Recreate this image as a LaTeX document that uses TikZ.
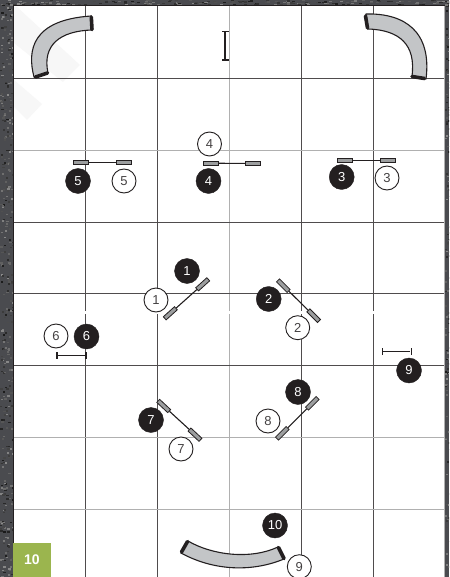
\documentclass[tikz,border=0pt]{standalone}
\usepackage{fontspec}
\setmainfont{Liberation Sans}
\definecolor{bgdark}{HTML}{4A4B4F}
\definecolor{ink}{HTML}{231F20}
\definecolor{tube}{HTML}{C3C5C7}
\definecolor{agility}{HTML}{9BB54E}
\definecolor{gridgray}{HTML}{B0B0B0}
\tikzset{
  gridline/.style={draw=ink!80,line width=0.6pt},
  gridlight/.style={draw=gridgray,line width=0.9pt},
  dark/.style={circle,fill=ink,draw=ink,minimum size=25pt,inner sep=0pt,text=white,font=\fontsize{13}{13}\selectfont},
  light/.style={circle,fill=white,draw=ink,line width=0.9pt,minimum size=24pt,inner sep=0pt,text=ink!85,font=\fontsize{13}{13}\selectfont},
  wing/.style={rectangle,draw=ink,line width=0.8pt,fill=tube!80!black,minimum width=15pt,minimum height=4.2pt,inner sep=0pt},
  bar/.style={draw=ink,line width=1.1pt},
  tick/.style={rectangle,fill=ink,minimum width=1.3pt,minimum height=7pt,inner sep=0pt},
  tunnel/.style={draw=ink,line width=1.1pt,fill=tube,line join=round},
  tunnelend/.style={draw=ink,line width=3.6pt,line cap=round},
  badge/.style={rectangle,fill=agility,text=white,minimum width=38pt,minimum height=34pt,inner sep=0pt,font=\bfseries\fontsize{14}{14}\selectfont},
  seam/.style={draw=white,line width=1pt},
  water/.style={fill=black!3}
}
\begin{document}
\begin{tikzpicture}[x=1pt,y=-1pt]
\useasboundingbox (0,0) rectangle (449,577);
% speckled background
\fill[bgdark] (0,0) rectangle (449,577);
\pgfmathsetseed{4242}
\begin{scope}
\clip (0,0) rectangle (449,577);
\foreach \i in {1,...,420}{
  \pgfmathsetmacro{\yy}{rnd*577}
  \pgfmathsetmacro{\xx}{rnd*14}
  \pgfmathsetmacro{\gg}{45+rnd*45}
  \fill[black!\gg] (\xx,\yy) rectangle ++(2.2,1.6);
}
\foreach \i in {1,...,120}{
  \pgfmathsetmacro{\yy}{rnd*577}
  \pgfmathsetmacro{\xx}{445+rnd*4}
  \pgfmathsetmacro{\gg}{45+rnd*45}
  \fill[black!\gg] (\xx,\yy) rectangle ++(2,1.6);
}
\foreach \i in {1,...,260}{
  \pgfmathsetmacro{\xx}{rnd*449}
  \pgfmathsetmacro{\yy}{rnd*6}
  \pgfmathsetmacro{\gg}{45+rnd*45}
  \fill[black!\gg] (\xx,\yy) rectangle ++(3,1.2);
}
\end{scope}
% panel
\fill[white] (13.5,6) rectangle (444.5,577);
\fill[water] (17,7) -- (80,65) -- (63,82) -- (14,43) -- (14,7) -- cycle;
\fill[water] (14,80) -- (42,104) -- (27,120) -- (14,107) -- cycle;
% grid
\foreach \x in {85,157,301,373} \draw[gridline] (\x,6) -- (\x,577);
\draw[gridlight] (229,6) -- (229,577);
\foreach \y in {78,222,293,365} \draw[gridline] (13.5,\y) -- (444.5,\y);
\foreach \y in {150,437,509} \draw[gridlight] (13.5,\y) -- (444.5,\y);
\foreach \x in {85,157,229,301,373} \draw[seam] (\x,311) -- (\x,313.5);
\draw[ink,line width=1pt] (13.5,577) -- (13.5,6) -- (444.5,6);
\draw[gridlight,line width=1.2pt] (444.5,6) -- (444.5,577);
% tunnels
\draw[tunnel] (34,77) .. controls (27,50) and (32,20) .. (91,16) -- (92,30) .. controls (60,31) and (42,45) .. (48,73) -- cycle;
\draw[tunnelend] (35.5,77) -- (47.5,73);
\draw[tunnelend] (91.3,17) -- (92,29.5);
\draw[tunnel] (366,14) .. controls (405,13) and (432,32) .. (426,79) -- (412,76) .. controls (416,45) and (400,30) .. (368,29) -- cycle;
\draw[tunnelend] (365.5,16) -- (367.5,28);
\draw[tunnelend] (412,76.5) -- (424.5,78.5);
\draw[tunnel] (188,541) .. controls (212,555) and (250,560) .. (278,547) -- (284,559) .. controls (250,573) and (212,570) .. (181,553) -- cycle;
\draw[tunnelend] (187.5,541.5) -- (181.5,552);
\draw[tunnelend] (278.5,547.5) -- (284,558.5);
% jumps
\node[wing] (j5a) at (80.5,162.7) {};
\node[wing] (j5b) at (123.5,162.7) {};
\draw[bar] (j5a) -- (j5b);
\node[wing] (j4a) at (210.5,163.2) {};
\node[wing] (j4b) at (253.3,163.5) {};
\draw[bar] (j4a) -- (j4b);
\node[wing] (j3a) at (345,160.7) {};
\node[wing] (j3b) at (387.5,160.7) {};
\draw[bar] (j3a) -- (j3b);
\node[wing,rotate=42] (j1a) at (202.7,284.3) {};
\node[wing,rotate=42] (j1b) at (170.3,313.3) {};
\draw[bar] (j1a) -- (j1b);
\node[wing,rotate=-45] (j2a) at (283.3,285.7) {};
\node[wing,rotate=-45] (j2b) at (313.7,315.7) {};
\draw[bar] (j2a) -- (j2b);
\node[wing,rotate=-43] (j7a) at (163.7,406) {};
\node[wing,rotate=-43] (j7b) at (195,434.7) {};
\draw[bar] (j7a) -- (j7b);
\node[wing,rotate=45] (j8a) at (312.3,403.3) {};
\node[wing,rotate=45] (j8b) at (282.3,433.3) {};
\draw[bar] (j8a) -- (j8b);
% pipes
\node[tick] (p6a) at (57,355.5) {};
\node[tick] (p6b) at (86,355.5) {};
\draw[bar] (p6a) -- (p6b);
\node[tick] (p9a) at (382.3,351.3) {};
\node[tick] (p9b) at (411.3,351.3) {};
\draw[bar] (p9a) -- (p9b);
\node[tick,rotate=90] (pua) at (225,31.5) {};
\node[tick,rotate=90] (pub) at (225,60) {};
\draw[bar] (pua) -- (pub);
% numbers
\node[dark] (d1) at (187,271) {1};
\node[light] (w1) at (156,300) {1};
\node[dark] (d2) at (268.7,299) {2};
\node[light] (w2) at (297.7,327.7) {2};
\node[dark] (d3) at (341.7,177) {3};
\node[light] (w3) at (387,178) {3};
\node[light] (w4) at (209.5,144) {4};
\node[dark] (d4) at (208.5,181) {4};
\node[dark] (d5) at (78,181) {5};
\node[light] (w5) at (124,181) {5};
\node[light] (w6) at (56,336) {6};
\node[dark] (d6) at (86.5,336.5) {6};
\node[dark] (d7) at (151,420) {7};
\node[light] (w7) at (181,449) {7};
\node[dark] (d8) at (298,392) {8};
\node[light] (w8) at (268,421) {8};
\node[dark] (d9) at (409,370.5) {9};
\node[light] (w9) at (299.3,566.7) {9};
\node[dark] (d10) at (275,525.5) {10};
\node[badge] (page) at (32,560) {10};
\end{tikzpicture}
\end{document}
